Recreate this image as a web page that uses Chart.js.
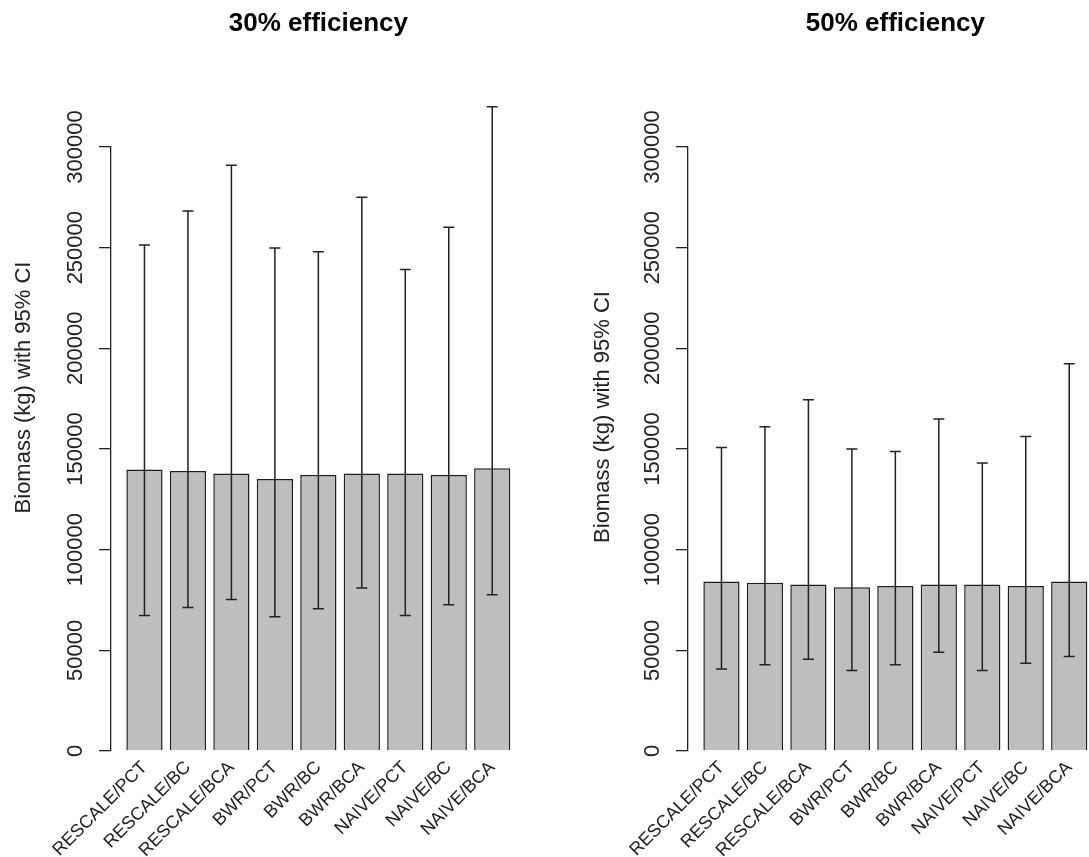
<!doctype html>
<html lang="en">
  <head>
    <script src="https://cdn.jsdelivr.net/npm/chart.js"></script>
    <meta charset="UTF-8" />
    <title>Biomass by efficiency</title>
    <style>
      html,
      body {
        margin: 0;
        padding: 0;
        width: 1089px;
        height: 857px;
        overflow: hidden;
        background: #fff;
        position: relative;
      }
      canvas {
        position: absolute;
        top: 0;
      }
      #chart30 {
        left: 0;
      }
      #chart50 {
        left: 577px;
      }
    </style>
  </head>
  <body>
    <canvas id="chart30" width="545" height="857"></canvas>
    <canvas id="chart50" width="545" height="857"></canvas>

    <script>
      const categories = [
        "RESCALE/PCT",
        "RESCALE/BC",
        "RESCALE/BCA",
        "BWR/PCT",
        "BWR/BC",
        "BWR/BCA",
        "NAIVE/PCT",
        "NAIVE/BC",
        "NAIVE/BCA",
      ];

      // 30% efficiency: mean biomass and 95% CI bounds (kg)
      const biomass30 = [139800, 139100, 137800, 135100, 137100, 137800, 137800, 137100, 140400];
      const lower30 = [67300, 71300, 75300, 66700, 70700, 80900, 67300, 72700, 77600];
      const upper30 = [251300, 268200, 290900, 249800, 248000, 275100, 239100, 260200, 320000];

      // 50% efficiency
      const biomass50 = [84200, 83600, 82700, 81300, 82000, 82700, 82700, 82000, 84200];
      const lower50 = [40700, 42900, 45600, 40000, 42900, 49100, 40000, 43600, 46900];
      const upper50 = [150700, 161100, 174400, 150000, 148700, 164900, 143100, 156200, 192400];

      const yTicks = [0, 50000, 100000, 150000, 200000, 250000, 300000];

      const FONT = "'Liberation Sans', Arial, sans-serif";
      const INK = "#222";

      // draws the 95% CI whiskers through the chart scales
      const errorBars = {
        id: "errorBars",
        afterDatasetsDraw(chart, args, opts) {
          const { ctx } = chart;
          const xs = chart.scales.x;
          const ys = chart.scales.y;
          ctx.save();
          ctx.strokeStyle = INK;
          ctx.lineWidth = 1.5;
          opts.lower.forEach((lo, i) => {
            const x = xs.getPixelForValue(i);
            const yLo = ys.getPixelForValue(lo);
            const yHi = ys.getPixelForValue(opts.upper[i]);
            ctx.beginPath();
            ctx.moveTo(x, yLo);
            ctx.lineTo(x, yHi);
            ctx.moveTo(x - 5.5, yLo);
            ctx.lineTo(x + 5.5, yLo);
            ctx.moveTo(x - 5.5, yHi);
            ctx.lineTo(x + 5.5, yHi);
            ctx.stroke();
          });
          ctx.restore();
        },
      };

      // vertical axis label, placed like the original R output
      const yLabel = {
        id: "yLabel",
        afterDraw(chart, args, opts) {
          const { ctx } = chart;
          ctx.save();
          ctx.translate(opts.x, opts.y);
          ctx.rotate(-Math.PI / 2);
          ctx.font = "22px " + FONT;
          ctx.fillStyle = INK;
          ctx.textAlign = "center";
          ctx.textBaseline = "middle";
          ctx.fillText(opts.text, 0, 0);
          ctx.restore();
        },
      };

      function makeChart(id, title, values, lower, upper, labelX, labelY) {
        const ctx = document.getElementById(id).getContext("2d");
        return new Chart(ctx, {
          type: "bar",
          data: {
            datasets: [
              {
                data: values.map((v, i) => ({ x: i, y: v })),
                backgroundColor: "#bebebe",
                borderColor: "#1e1e1e",
                borderWidth: 1.5,
                barPercentage: 1,
                categoryPercentage: 1 / 1.2,
              },
            ],
          },
          plugins: [errorBars, yLabel],
          options: {
            responsive: false,
            animation: false,
            layout: { padding: { left: 0, right: 19.3, top: 0, bottom: 0 } },
            plugins: {
              legend: { display: false },
              tooltip: { enabled: false },
              title: {
                display: true,
                text: title,
                fullSize: false,
                color: "#000",
                font: { family: FONT, size: 26, weight: "bold" },
                padding: { top: 8, bottom: 107.8 },
              },
              errorBars: { lower: lower, upper: upper },
              yLabel: { text: "Biomass (kg) with 95% CI", x: labelX, y: labelY },
            },
            scales: {
              x: {
                type: "linear",
                min: -0.77,
                max: 8.77,
                offset: false,
                border: { display: false },
                grid: { display: false, drawTicks: false },
                afterBuildTicks: (scale) => {
                  scale.ticks = categories.map((_, i) => ({ value: i }));
                },
                afterFit: (scale) => {
                  scale.height = 106;
                },
                ticks: {
                  autoSkip: false,
                  minRotation: 45,
                  maxRotation: 45,
                  padding: 6,
                  color: INK,
                  font: { family: FONT, size: 18 },
                  callback: (value) => categories[value],
                },
              },
              y: {
                min: 0,
                max: 300000,
                border: { display: true, color: INK, width: 1.3 },
                grid: {
                  display: true,
                  drawOnChartArea: false,
                  drawTicks: true,
                  tickLength: 12,
                  color: INK,
                  lineWidth: 1.3,
                },
                afterBuildTicks: (scale) => {
                  scale.ticks = yTicks.map((v) => ({ value: v }));
                },
                afterFit: (scale) => {
                  scale.width = 111;
                },
                ticks: {
                  minRotation: 90,
                  maxRotation: 90,
                  crossAlign: "center",
                  padding: -13.2,
                  color: INK,
                  font: { family: FONT, size: 22 },
                  callback: (value) => String(value),
                },
              },
            },
          },
        });
      }

      makeChart("chart30", "30% efficiency", biomass30, lower30, upper30, 24, 387.5);
      makeChart("chart50", "50% efficiency", biomass50, lower50, upper50, 25.5, 417);
    </script>
  </body>
</html>
